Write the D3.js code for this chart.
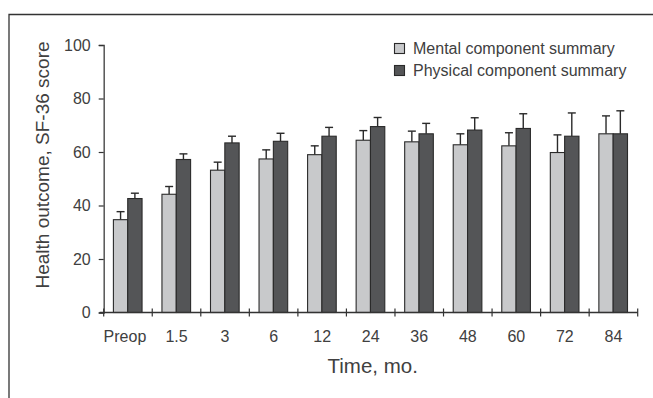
<!DOCTYPE html>
<html>
<head>
<meta charset="utf-8">
<script src="https://cdn.jsdelivr.net/npm/d3@7"></script>
<style>
  body { margin: 0; background: #fff; }
  svg { display: block; font-family: "Liberation Sans", Arial, sans-serif; }
</style>
</head>
<body>
<svg id="chart"></svg>
<script>
  // Categories and series
  let categories = ["Preop", "1.5", "3", "6", "12", "24", "36", "48", "60", "72", "84"];
  let seriesNames = ["Mental component summary", "Physical component summary"];
  let mentalMean = [34.7, 44.2, 53.2, 57.4, 59.0, 64.4, 63.8, 62.7, 62.3, 59.8, 66.8];
  let mentalErr = [3.0, 2.9, 3.0, 3.4, 3.3, 3.6, 4.0, 4.1, 4.9, 6.6, 6.7];
  let physicalMean = [42.6, 57.2, 63.4, 64.0, 65.9, 69.5, 66.8, 68.2, 68.8, 65.9, 66.8];
  let physicalErr = [2.0, 2.1, 2.5, 3.0, 3.3, 3.4, 3.9, 4.6, 5.5, 8.7, 8.6];
  let yTicks = [0, 20, 40, 60, 80, 100];

  let colors = ["#c8c9cb", "#545557"];
  let textColor = "#404040";

  let width = 653;
  let height = 398;

  let svg = d3.select("#chart")
    .attr("width", width)
    .attr("height", height);

  // Frame (top and left edges)
  svg.append("path")
    .attr("d", `M9,${height} L9,14.5 L${width},14.5`)
    .attr("fill", "none")
    .attr("stroke", "#333")
    .attr("stroke-width", 1.3);

  // Scales
  let x = d3.scaleBand()
    .domain(categories)
    .range([103.7, 637.7])
    .padding(0);

  let x1 = d3.scaleBand()
    .domain([0, 1])
    .range([x.bandwidth() * 0.2, x.bandwidth() * 0.79])
    .padding(0);

  let y = d3.scaleLinear()
    .domain([0, 100])
    .range([312.5, 45]);

  // Build rows
  let rows = categories.map((c, i) => ({
    cat: c,
    values: [
      { s: 0, mean: mentalMean[i], err: mentalErr[i] },
      { s: 1, mean: physicalMean[i], err: physicalErr[i] }
    ]
  }));

  let groups = svg.append("g")
    .selectAll("g")
    .data(rows)
    .join("g")
    .attr("transform", d => `translate(${x(d.cat)},0)`);

  // Error bars (upward only)
  let errs = groups.selectAll("g.err")
    .data(d => d.values)
    .join("g")
    .attr("class", "err")
    .attr("stroke", "#2a2a2a")
    .attr("stroke-width", 1.4);

  errs.append("line")
    .attr("x1", d => x1(d.s) + x1.bandwidth() / 2)
    .attr("x2", d => x1(d.s) + x1.bandwidth() / 2)
    .attr("y1", d => y(d.mean))
    .attr("y2", d => y(d.mean + d.err));

  errs.append("line")
    .attr("x1", d => x1(d.s) + x1.bandwidth() / 2 - 4)
    .attr("x2", d => x1(d.s) + x1.bandwidth() / 2 + 4)
    .attr("y1", d => y(d.mean + d.err))
    .attr("y2", d => y(d.mean + d.err));

  // Bars
  groups.selectAll("rect")
    .data(d => d.values)
    .join("rect")
    .attr("x", d => x1(d.s))
    .attr("y", d => y(d.mean))
    .attr("width", x1.bandwidth())
    .attr("height", d => y(0) - y(d.mean))
    .attr("fill", d => colors[d.s])
    .attr("stroke", "#2a2a2a")
    .attr("stroke-width", 1.1);

  // Y axis
  let yAxis = svg.append("g")
    .attr("transform", `translate(${x.range()[0]},0)`)
    .call(d3.axisLeft(y).tickValues(yTicks).tickSize(5).tickPadding(8));

  yAxis.select(".domain").attr("stroke", "#555").attr("stroke-width", 1.5);
  yAxis.selectAll(".tick line").attr("stroke", "#333").attr("stroke-width", 1.2);
  yAxis.selectAll(".tick text")
    .attr("fill", textColor)
    .style("font-size", "16px");

  // X axis with ticks between categories
  let xAxisG = svg.append("g")
    .attr("transform", `translate(0,${y(0)})`);

  xAxisG.append("line")
    .attr("x1", x.range()[0] - 4)
    .attr("x2", x.range()[1])
    .attr("stroke", "#333")
    .attr("stroke-width", 1.5);

  let boundaries = categories.map(c => x(c)).concat([x.range()[1]]);
  xAxisG.selectAll("line.tk")
    .data(boundaries)
    .join("line")
    .attr("class", "tk")
    .attr("x1", d => d)
    .attr("x2", d => d)
    .attr("y1", -4)
    .attr("y2", 4)
    .attr("stroke", "#333")
    .attr("stroke-width", 1.2);

  xAxisG.selectAll("text")
    .data(categories)
    .join("text")
    .attr("x", d => x(d) + x.bandwidth() / 2 - (d === "Preop" ? 3 : 0))
    .attr("y", 29)
    .attr("text-anchor", "middle")
    .attr("fill", textColor)
    .style("font-size", "16px")
    .text(d => d);

  // Axis titles
  svg.append("text")
    .attr("x", (x.range()[0] + x.range()[1]) / 2 + 2)
    .attr("y", 373)
    .attr("text-anchor", "middle")
    .attr("fill", textColor)
    .style("font-size", "20.5px")
    .text("Time, mo.");

  svg.append("text")
    .attr("transform", "translate(49,165) rotate(-90)")
    .attr("text-anchor", "middle")
    .attr("fill", textColor)
    .style("font-size", "19px")
    .text("Health outcome, SF-36 score");

  // Legend
  let legend = svg.append("g")
    .attr("transform", "translate(394,43)");

  let items = legend.selectAll("g")
    .data(seriesNames)
    .join("g")
    .attr("transform", (d, i) => `translate(0,${i * 22})`);

  items.append("rect")
    .attr("x", 0.5)
    .attr("y", 0.5)
    .attr("width", 10)
    .attr("height", 10)
    .attr("fill", (d, i) => colors[i])
    .attr("stroke", "#2a2a2a")
    .attr("stroke-width", 1.1);

  items.append("text")
    .attr("x", 19)
    .attr("y", 11)
    .attr("fill", textColor)
    .style("font-size", "16px")
    .text(d => d);
</script>
</body>
</html>
